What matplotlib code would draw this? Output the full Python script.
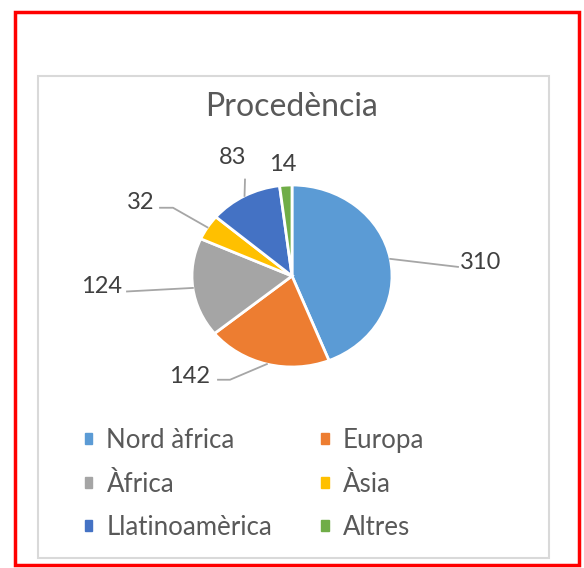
import matplotlib.pyplot as plt
from matplotlib.patches import Rectangle, Patch
import numpy as np

plt.rcParams['font.family'] = ['Lato', 'DejaVu Sans']

categories = ["Nord àfrica", "Europa", "Àfrica", "Àsia", "Llatinoamèrica", "Altres"]
counts = [310, 142, 124, 32, 83, 14]
colors = ["#5B9BD5", "#ED7D31", "#A5A5A5", "#FFC000", "#4472C4", "#70AD47"]
title = "Procedència"

# label placement in pie-axes data coords (text centre) + leader line points
label_xy = [(1.89, 0.15), (-1.02, -1.10), (-1.90, -0.11), (-1.51, 0.81), (-0.59, 1.30), (-0.09, 1.23)]
leader_pts = [[(1.66, 0.10)], [(-0.62, -1.14), (-0.74, -1.14)], [(-1.65, -0.17)],
              [(-1.19, 0.75), (-1.32, 0.75)], [(-0.47, 1.06)], []]

W, H = 584, 568
fig = plt.figure(figsize=(W / 100, H / 100), dpi=100)


def px(x, y):  # pixel from top-left -> figure fraction
    return x / W, 1 - y / H


# outer red border and grey chart frame
fig.add_artist(Rectangle(px(15, 565), 564 / W, 553 / H, fill=False, ec="red", lw=2.5,
                         transform=fig.transFigure))
fig.add_artist(Rectangle(px(38, 558), 511 / W, 482 / H, fill=False, ec="#D9D9D9", lw=1.5,
                         transform=fig.transFigure))

ax = fig.add_axes([92 / W, 1 - 458 / H, 400 / W, 364 / H])
wedges, _ = ax.pie(counts, colors=colors, startangle=90, counterclock=False,
                   wedgeprops=dict(edgecolor="white", linewidth=2))
ax.set_aspect("auto")
ax.set_xlim(-2, 2)
ax.set_ylim(-2, 2)
ax.axis("off")

for w, val, (tx, ty), pts in zip(wedges, counts, label_xy, leader_pts):
    mid = np.deg2rad((w.theta1 + w.theta2) / 2)
    anchor = (w.r * np.cos(mid), w.r * np.sin(mid))
    if pts:
        line = [anchor] + pts
        ax.plot([p[0] for p in line], [p[1] for p in line], color="#A6A6A6", lw=1.3)
    ax.text(tx, ty, str(val), ha="center", va="center", fontsize=17, color="#404040")

fig.text(292 / W, 1 - 107 / H, title, ha="center", va="center", fontsize=23, color="#595959")

handles = [Patch(color=c, label=l) for c, l in zip(colors, categories)]
order = [0, 2, 4, 1, 3, 5]
fig.legend([handles[i] for i in order], [categories[i] for i in order], ncol=2,
           loc="upper left", bbox_to_anchor=px(85, 428), frameon=False,
           fontsize=18.6, labelcolor="#595959", handlelength=0.28, handleheight=0.28,
           handletextpad=0.55, labelspacing=0.72, columnspacing=1.9,
           borderpad=0, borderaxespad=0)

fig.savefig("out.png", dpi=100)
